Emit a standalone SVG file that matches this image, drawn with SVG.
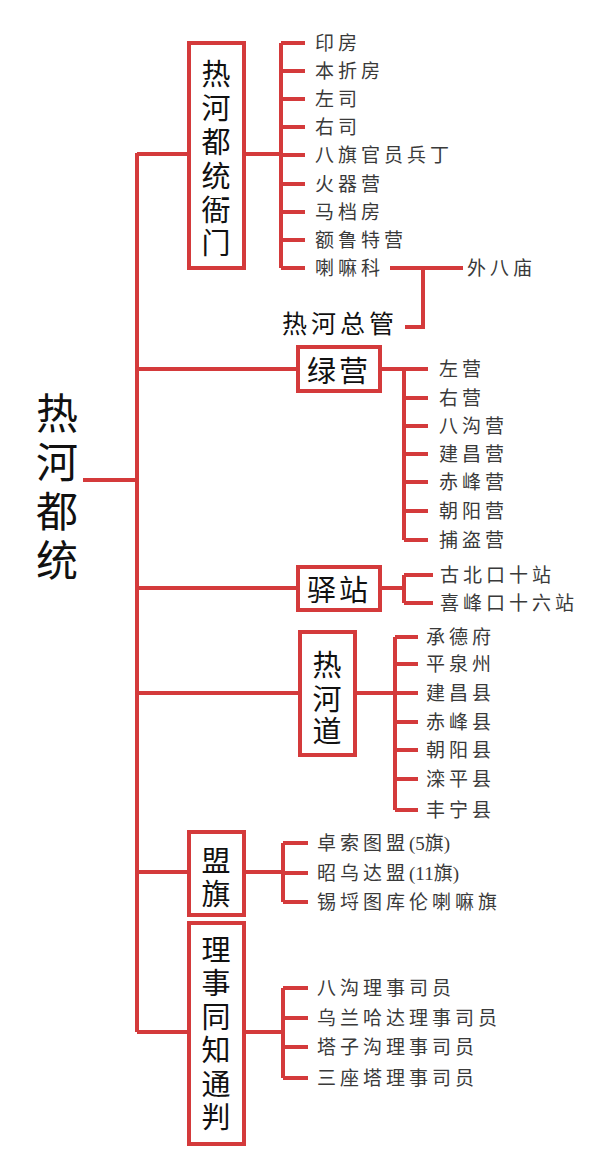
<svg xmlns="http://www.w3.org/2000/svg" width="590" height="1164" viewBox="0 0 590 1164">
<style>
.ln{stroke:#d43a3b;stroke-width:4;fill:none;stroke-linecap:butt}
.bx{stroke:#d43a3b;stroke-width:4;fill:#fff}
.lf{font-family:"Liberation Serif","Noto Sans CJK SC",serif;font-size:19px;fill:#3a3a3a;letter-spacing:4px;dominant-baseline:central}
.bt{font-family:"Noto Sans CJK SC",sans-serif;font-size:29px;fill:#111;text-anchor:middle;dominant-baseline:central}
.big{font-family:"Noto Sans CJK SC",sans-serif;font-size:42px;fill:#111;text-anchor:middle;dominant-baseline:central}
.zg{font-family:"Noto Sans CJK SC",sans-serif;font-size:25px;fill:#111;letter-spacing:4px;dominant-baseline:central}
.t0{letter-spacing:0}
</style>
<rect width="590" height="1164" fill="#fff"/>
<g id="connectors" class="ln">
<path d="M83 480H137M137 153V1032M137 154H189M137 369H298M137 588H298M137 693H300M137 872H189M137 1032H189"/>
<path d="M244 154H281M281 43V268M281 43H305M281 71H305M281 99H305M281 127H305M281 155H305M281 184H305M281 212H305M281 240H305M281 268H305"/>
<path d="M390 268H463M423 268V327H405"/>
<path d="M380 369H404M404 369V540M404 369H428M404 398H428M404 426H428M404 454H428M404 482H428M404 511H428M404 540H428"/>
<path d="M380 588H404M404 575V603M404 575H433M404 603H433"/>
<path d="M355 693H395M395 637V810M395 637H418M395 664H418M395 693H418M395 722H418M395 750H418M395 779H418M395 810H418"/>
<path d="M244 872H283M283 843V902M283 843H308M283 873H308M283 902H308"/>
<path d="M244 1032H283M283 988V1078M283 988H308M283 1018H308M283 1047H308M283 1078H308"/>
</g>
<g id="root"><text class="big"><tspan x="57" y="410">热</tspan><tspan x="57" y="459">河</tspan><tspan x="57" y="508">都</tspan><tspan x="57" y="557">统</tspan></text></g>
<g id="yamen"><rect class="bx" x="189" y="43" width="55" height="225"/>
<text class="bt"><tspan x="216" y="72">热</tspan><tspan x="216" y="106">河</tspan><tspan x="216" y="140">都</tspan><tspan x="216" y="174">统</tspan><tspan x="216" y="208">衙</tspan><tspan x="216" y="241">门</tspan></text></g>
<g id="yamen-items"><text class="lf" x="315" y="43">印房</text><text class="lf" x="315" y="71">本折房</text><text class="lf" x="315" y="99">左司</text><text class="lf" x="315" y="127">右司</text><text class="lf" x="315" y="155">八旗官员兵丁</text><text class="lf" x="315" y="184">火器营</text><text class="lf" x="315" y="212">马档房</text><text class="lf" x="315" y="240">额鲁特营</text><text class="lf" x="315" y="268">喇嘛科</text></g>
<g id="waibamiao"><text class="lf" x="467" y="268">外八庙</text></g>
<g id="zongguan"><text class="zg" x="282" y="322">热河总管</text></g>
<g id="lvying"><rect class="bx" x="298" y="347" width="82" height="44"/><text class="bt" x="339" y="369" style="letter-spacing:3px">绿营</text></g>
<g id="lvying-items"><text class="lf" x="439" y="369">左营</text><text class="lf" x="439" y="398">右营</text><text class="lf" x="439" y="426">八沟营</text><text class="lf" x="439" y="454">建昌营</text><text class="lf" x="439" y="482">赤峰营</text><text class="lf" x="439" y="511">朝阳营</text><text class="lf" x="439" y="540">捕盗营</text></g>
<g id="yizhan"><rect class="bx" x="298" y="567" width="82" height="43"/><text class="bt" x="339" y="588" style="letter-spacing:3px">驿站</text></g>
<g id="yizhan-items"><text class="lf" x="440" y="575">古北口十站</text><text class="lf" x="440" y="603">喜峰口十六站</text></g>
<g id="rehedao"><rect class="bx" x="300" y="632" width="55" height="123"/>
<text class="bt"><tspan x="327" y="663">热</tspan><tspan x="327" y="697">河</tspan><tspan x="327" y="729">道</tspan></text></g>
<g id="rehedao-items"><text class="lf" x="426" y="637">承德府</text><text class="lf" x="426" y="664">平泉州</text><text class="lf" x="426" y="693">建昌县</text><text class="lf" x="426" y="722">赤峰县</text><text class="lf" x="426" y="750">朝阳县</text><text class="lf" x="426" y="779">滦平县</text><text class="lf" x="426" y="810">丰宁县</text></g>
<g id="mengqi"><rect class="bx" x="189" y="832" width="55" height="83"/>
<text class="bt"><tspan x="216" y="859">盟</tspan><tspan x="216" y="892">旗</tspan></text></g>
<g id="mengqi-items"><text class="lf" x="317" y="843">卓索图盟<tspan class="t0">(5旗)</tspan></text><text class="lf" x="317" y="873">昭乌达盟<tspan class="t0">(11旗)</tspan></text><text class="lf" x="317" y="902">锡埒图库伦喇嘛旗</text></g>
<g id="lishi"><rect class="bx" x="189" y="923" width="55" height="221"/>
<text class="bt"><tspan x="216" y="948">理</tspan><tspan x="216" y="981">事</tspan><tspan x="216" y="1015">同</tspan><tspan x="216" y="1048">知</tspan><tspan x="216" y="1082">通</tspan><tspan x="216" y="1115">判</tspan></text></g>
<g id="lishi-items"><text class="lf" x="317" y="988">八沟理事司员</text><text class="lf" x="317" y="1018">乌兰哈达理事司员</text><text class="lf" x="317" y="1047">塔子沟理事司员</text><text class="lf" x="317" y="1078">三座塔理事司员</text></g>
</svg>
